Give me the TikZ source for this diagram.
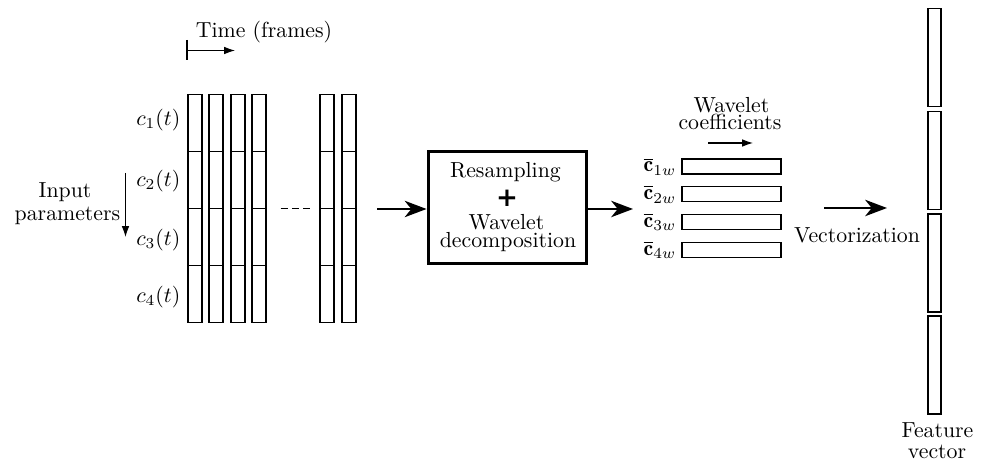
\documentclass[tikz,border=0pt]{standalone}
\usepackage{fontspec}
\newfontfamily\plusfont{DejaVu Sans}
\usetikzlibrary{arrows.meta}
\begin{document}
\begin{tikzpicture}[x=0.459pt,y=-0.459pt,
  cell/.style={draw, line width=0.5pt, minimum width=14*0.459pt, minimum height=57*0.459pt, inner sep=0pt, outer sep=0pt},
  wcell/.style={draw, line width=0.5pt, minimum width=99*0.459pt, minimum height=15*0.459pt, inner sep=0pt, outer sep=0pt},
  fcell/.style={draw, line width=0.5pt, minimum width=13*0.459pt, minimum height=98*0.459pt, inner sep=0pt, outer sep=0pt},
  bigarrow/.style={line width=1.2pt, -{Stealth[length=10pt,width=7.5pt,inset=3pt]}},
  smallarrow/.style={line width=0.5pt, -{Latex[length=5pt,width=3.5pt]}},
  lbl/.style={inner sep=0pt, anchor=base},
  topline/.style={text depth=0pt},
  botline/.style={text height=4.3pt},
  box/.style={draw, line width=1.8pt, minimum width=158*0.459pt, minimum height=112*0.459pt, inner sep=0pt}]
\useasboundingbox (0,0) rectangle (984,463);

% time arrow
\node[lbl] (time) at (264,38) {Time (frames)};
\coordinate (ta) at (187,40);
\coordinate (tb) at (187,60);
\coordinate (t0) at (187,50.5);
\coordinate (t1) at (235,50.5);
\draw[line width=0.5pt] (ta) -- (tb);
\draw[smallarrow] (t0) -- (t1);

% columns
\foreach \x [count=\i] in {195,216,238,259,327,349}{
  \foreach \y [count=\j] in {123,180,237,294}{
    \node[cell] (c\i-\j) at (\x,\y) {};
  }
}
\foreach \y/\k in {120/1,181/2,240/3,297/4}{
  \node[anchor=east] (lab\k) at (188,\y) {$c_{\k}(t)$};
}
\coordinate (d0) at (280.5,208.5);
\coordinate (d1) at (313,208.5);
\draw[line width=0.9pt, dash pattern=on 3.3pt off 1.9pt] (d0) -- (d1);

% input parameters
\node[lbl, topline] (inp1) at (65,198) {Input};
\node[lbl, botline] (inp2) at (67.5,221) {parameters};
\coordinate (ia) at (125.5,173);
\coordinate (ib) at (125.5,237);
\draw[smallarrow] (ia) -- (ib);

% box
\node[box] (proc) at (507.5,207.5) {};
\node[lbl, topline] (r1) at (505.5,178) {Resampling};
\node[inner sep=0pt] (r2) at (507,198.5) {\plusfont\bfseries\fontsize{12}{12}\selectfont +};
\node[lbl, topline] (r3) at (506.5,230) {Wavelet};
\node[lbl, botline] (r4) at (508,248) {decomposition};
\coordinate (a0) at (377,209);
\draw[bigarrow] (a0) -- (proc.west |- a0);
\coordinate (a1) at (633,209);
\draw[bigarrow] (proc.east |- a1) -- (a1);

% wavelet coefficients
\node[lbl, topline] (w1) at (731.5,113) {Wavelet};
\node[lbl, botline] (w2) at (730,130) {coefficients};
\coordinate (wa) at (708,143);
\coordinate (wb) at (753,143);
\draw[smallarrow] (wa) -- (wb);
\foreach \y/\k in {166.5/1,194.3/2,222/3,249.7/4}{
  \node[wcell] (wc\k) at (731.5,\y) {};
  \node[anchor=east, inner sep=2.5pt] (wl\k) at (wc\k.west) {$\overline{\mathbf{c}}_{\k w}$};
}

% vectorization
\coordinate (v0) at (824,208);
\coordinate (v1) at (887,208);
\draw[bigarrow] (v0) -- (v1);
\node[lbl] (vec) at (857,243) {Vectorization};

% feature vector
\foreach \y/\k in {57.5/1,160.5/2,263/3,365/4}{
  \node[fcell] (f\k) at (934.5,\y) {};
}
\node[lbl, topline] (fv1) at (937.5,438) {Feature};
\node[lbl, botline] (fv2) at (937,459) {vector};
\end{tikzpicture}
\end{document}
